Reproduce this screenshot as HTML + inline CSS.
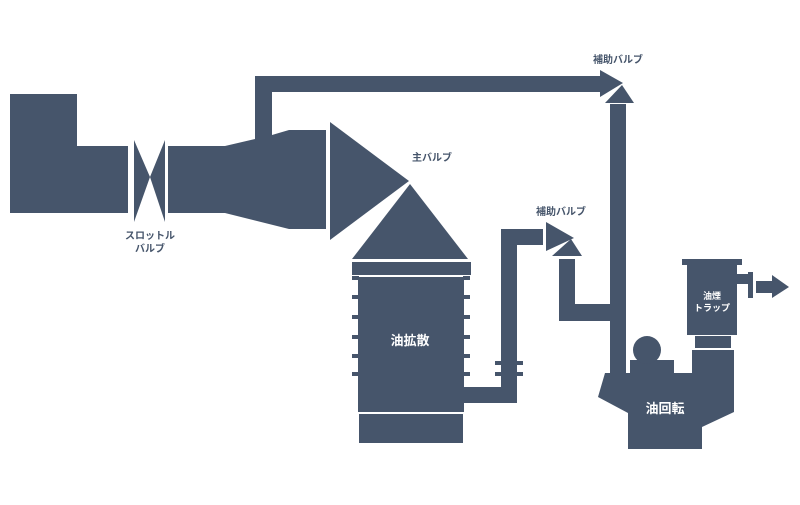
<!DOCTYPE html>
<html><head><meta charset="utf-8"><style>
html,body{margin:0;padding:0;background:#fff;}
svg text{font-family:"Liberation Sans","Noto Sans CJK JP",sans-serif;font-weight:bold;}
</style></head><body>
<svg width="800" height="500" viewBox="0 0 800 500" xmlns="http://www.w3.org/2000/svg">
<g fill="#46556b">
<!-- left box -->
<polygon points="10,94 77,94 77,146 128,146 128,213 10,213"/>
<!-- throttle -->
<polygon points="134,140 150,177 165,140 165,222 150,177 134,222"/>
<!-- pipe after throttle -->
<polygon points="168,146 225,146 255,139 255,76 600,76 600,92 272,92 272,135 289,130 326,130 326,229 289,229 225,213 168,213"/>
<!-- main valve -->
<polygon points="330,122 409,181 330,240"/>
<polygon points="410,184 468,259 352,259"/>
<rect x="352" y="262" width="119" height="13"/>
<rect x="358" y="277" width="106" height="135"/>
<rect x="359" y="414" width="104" height="29"/>
<rect x="352" y="276" width="7" height="4"/><rect x="463" y="276" width="7" height="4"/>
<rect x="352" y="295" width="7" height="4"/><rect x="463" y="295" width="7" height="4"/>
<rect x="352" y="315" width="7" height="4"/><rect x="463" y="315" width="7" height="4"/>
<rect x="352" y="335" width="7" height="4"/><rect x="463" y="335" width="7" height="4"/>
<rect x="352" y="354" width="7" height="4"/><rect x="463" y="354" width="7" height="4"/>
<rect x="352" y="372" width="7" height="4"/><rect x="463" y="372" width="7" height="4"/>
<!-- pipe to aux valve -->
<polygon points="463,387 501,387 501,229 543,229 543,245 517,245 517,403 463,403"/>
<rect x="495" y="361" width="28" height="4"/>
<rect x="495" y="372" width="28" height="4"/>
<!-- aux valve 2 -->
<polygon points="546,222 574,238 546,251"/>
<polygon points="571,239 582,256 552,256"/>
<!-- pipe down -->
<polygon points="559,259 575,259 575,304 611,304 611,321 559,321"/>
<!-- main vertical -->
<rect x="610" y="104" width="16" height="272"/>
<!-- top valve -->
<polygon points="600,70 623,83 600,97"/>
<polygon points="622,85 634,103 605,103"/>
<!-- rotary -->
<polygon points="605,373 692,373 692,350 734,350 734,412 702,427 702,449 628,449 628,413 598,397"/>
<rect x="630" y="360" width="44" height="13"/>
<circle cx="647" cy="350" r="14"/>
<!-- trap -->
<rect x="695" y="336" width="36" height="12"/>
<rect x="687" y="262" width="50" height="73"/>
<rect x="682" y="259" width="60" height="6"/>
<rect x="737" y="274" width="11" height="10"/>
<rect x="748" y="272" width="5" height="26"/>
<polygon points="756,281 772,281 772,275 789,287 772,298 772,293 756,293"/>
</g>
<g fill="#46556b" font-size="10" text-anchor="middle">
<text x="150" y="239">スロットル</text>
<text x="150" y="252">バルブ</text>
<text x="432" y="161">主バルブ</text>
<text x="561" y="215">補助バルブ</text>
<text x="618" y="63">補助バルブ</text>
</g>
<g fill="#fff" text-anchor="middle">
<text x="410" y="345" font-size="13">油拡散</text>
<text x="665" y="413" font-size="13">油回転</text>
<text x="712" y="299" font-size="9">油煙</text>
<text x="712" y="307" font-size="9" dy="4">トラップ</text>
</g>
</svg>
</body></html>
